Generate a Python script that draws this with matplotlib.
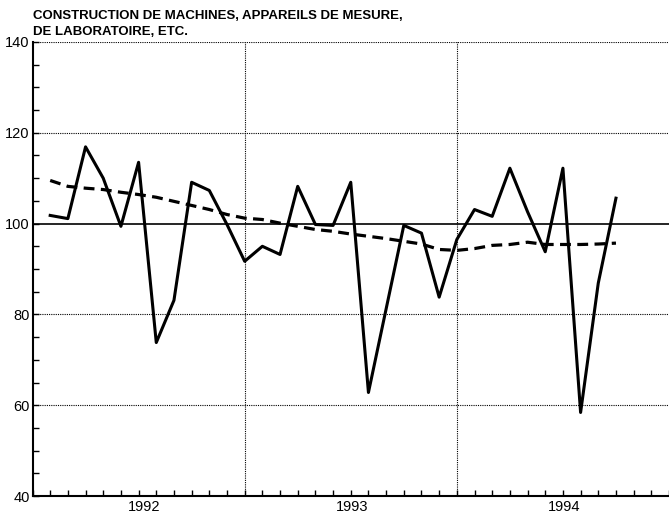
import matplotlib.pyplot as plt
import numpy as np

plt.rcParams['font.family'] = ['Liberation Sans', 'DejaVu Sans']

# indice mensuel, janvier 1992 -> septembre 1994
indice = [101.8, 101.1, 116.9, 110.0, 99.4, 113.5, 73.8, 83.1, 109.1, 107.3, 99.8, 91.7,
          95.0, 93.2, 108.2, 99.8, 99.6, 109.1, 62.8, 81.2, 99.6, 97.9, 83.8, 96.5,
          103.1, 101.6, 112.2, 102.6, 93.8, 112.2, 58.4, 86.9, 105.6]
tendance = [109.5, 108.2, 107.8, 107.5, 106.9, 106.4, 105.8, 104.9, 104.0, 103.1, 102.0, 101.2,
            100.9, 100.1, 99.4, 98.7, 98.3, 97.7, 97.2, 96.7, 96.1, 95.5, 94.3, 94.1,
            94.5, 95.2, 95.4, 95.9, 95.4, 95.4, 95.4, 95.5, 95.7]
annees = ['1992', '1993', '1994']
titre1 = 'CONSTRUCTION DE MACHINES, APPAREILS DE MESURE,'
titre2 = 'DE LABORATOIRE, ETC.'

mois = np.arange(1, len(indice) + 1)

fig = plt.figure(figsize=(6.69, 5.19), dpi=100)
ax = fig.add_axes([0.0486, 0.0443, 1 - 0.0486, 0.8748])

# grille
for y in [60, 80, 120, 140]:
    ax.axhline(y, color='black', lw=0.8, ls=(0, (1, 1)), zorder=1)
for x in [12, 24]:
    ax.axvline(x, color='black', lw=0.8, ls=(0, (1, 1)), zorder=1)
ax.axhline(100, color='black', lw=1.2, zorder=2)

ax.plot(mois, tendance, color='black', lw=2.3, ls=(0, (3.4, 2)), zorder=3)
ax.plot(mois, indice, color='black', lw=2.2, zorder=4)

ax.set_xlim(0, 35.85)
ax.set_ylim(40, 140)

ax.spines['top'].set_visible(False)
ax.spines['right'].set_visible(False)
ax.spines['left'].set_linewidth(1.5)
ax.spines['bottom'].set_linewidth(1.5)

ax.set_yticks([40, 60, 80, 100, 120, 140])
ax.set_yticks(np.arange(40, 141, 5), minor=True)
ax.tick_params(axis='y', which='both', direction='in', length=4, width=1, labelsize=10.5, pad=2)

ax.set_xticks([6.3, 18.1, 30.05])
ax.set_xticklabels(annees)
ax.set_xticks(np.arange(0, 37, 1), minor=True)
ax.tick_params(axis='x', which='major', length=0, labelsize=10.5, pad=3)
ax.tick_params(axis='x', which='minor', direction='in', length=4, width=1)

fig.text(0.0486, 0.9634, titre1, ha='left', va='baseline', fontsize=9.5, fontweight='bold')
fig.text(0.0486, 0.9326, titre2, ha='left', va='baseline', fontsize=9.5, fontweight='bold')

fig.savefig('out.png', dpi=100)
